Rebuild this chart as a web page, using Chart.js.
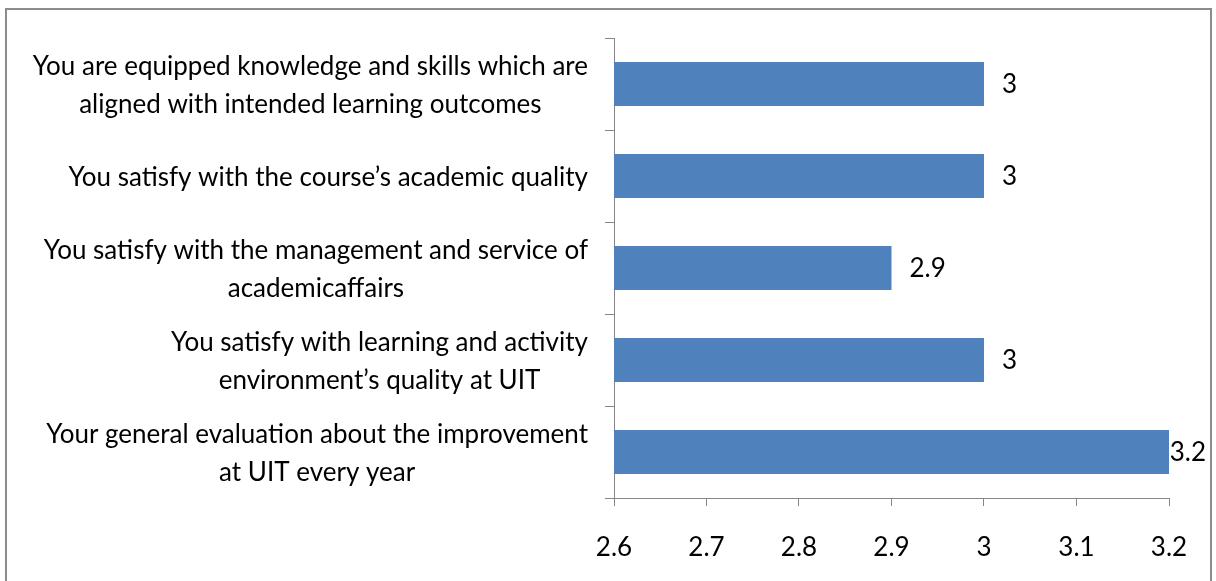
<!DOCTYPE html>
<html><head><meta charset="utf-8">
<script src="https://cdn.jsdelivr.net/npm/chart.js@4.4.1/dist/chart.umd.min.js"></script>
<style>
html,body{margin:0;padding:0;background:#fff;overflow:hidden}
#wrap{position:relative;width:1216px;height:581px}
#frame{position:absolute;left:5px;top:8px;width:1203px;height:600px;border:2px solid #8c8c8c;pointer-events:none}
canvas{position:absolute;left:0;top:0}
</style></head><body>
<div id="wrap"><canvas id="c" width="1216" height="581"></canvas><div id="frame"></div></div>
<script>
const categories = [
  ["You are equipped knowledge and skills which are", "aligned with intended learning outcomes"],
  ["You satisfy with the course’s academic quality"],
  ["You satisfy with the management and service of", "academicaffairs"],
  ["You satisfy with learning and activity", "environment’s quality at UIT"],
  ["Your general evaluation about the improvement", "at UIT every year"]
];
const values = [3, 3, 2.9, 3, 3.2];
const xTicks = [2.6, 2.7, 2.8, 2.9, 3.0, 3.1, 3.2];

const FONT_FAMILY = 'Lato, "Open Sans", sans-serif';
const FONT_SIZE = 26;
const FONT = FONT_SIZE + 'px ' + FONT_FAMILY;
const AXIS = '#868686';
const fmt = v => String(Number(v.toFixed(1)));

const yLabelPlugin = {
  id: 'yLabels',
  afterDraw(chart) {
    const ctx = chart.ctx, ys = chart.scales.y;
    ctx.save();
    ctx.font = FONT; ctx.fillStyle = '#000';
    ctx.textBaseline = 'middle'; ctx.textAlign = 'center';
    const right = ys.right - 26;
    const lh = 38;
    categories.forEach((lines, i) => {
      const yc = ys.getPixelForValue(i) + 2;
      const w = Math.max(...lines.map(l => ctx.measureText(l).width));
      const cx = right - w / 2;
      lines.forEach((l, j) => ctx.fillText(l, cx, yc + (j - (lines.length - 1) / 2) * lh));
    });
    ctx.restore();
  }
};

const dataLabelPlugin = {
  id: 'dataLabels',
  afterDatasetsDraw(chart) {
    const ctx = chart.ctx;
    const meta = chart.getDatasetMeta(0);
    ctx.save();
    ctx.font = FONT; ctx.fillStyle = '#000';
    ctx.textBaseline = 'middle'; ctx.textAlign = 'left';
    meta.data.forEach((bar, i) => {
      const t = fmt(values[i]);
      const w = ctx.measureText(t).width;
      let x = bar.x + 18;
      if (x + w > 1206) x = 1206 - w;
      ctx.fillText(t, x, bar.y + 1);
    });
    ctx.restore();
  }
};

new Chart(document.getElementById('c'), {
  type: 'bar',
  data: {
    labels: categories.map(l => l.join(' ')),
    datasets: [{
      data: values,
      backgroundColor: '#4F81BD',
      borderWidth: 0,
      barPercentage: 0.478,
      categoryPercentage: 1
    }]
  },
  options: {
    indexAxis: 'y',
    responsive: false,
    animation: false,
    layout: { padding: { left: 0, right: 47, top: 38, bottom: 0 } },
    plugins: { legend: { display: false }, tooltip: { enabled: false } },
    scales: {
      x: {
        min: 2.6, max: 3.2,
        afterBuildTicks: s => { s.ticks = xTicks.map(v => ({ value: v })); },
        afterFit: s => { s.height = 83; },
        ticks: { callback: v => fmt(v), color: '#000', font: { family: FONT_FAMILY, size: FONT_SIZE }, padding: 26, maxRotation: 0, autoSkip: false },
        grid: { drawOnChartArea: false, drawTicks: true, tickLength: 8, color: AXIS },
        border: { color: AXIS, width: 1 }
      },
      y: {
        afterFit: s => { s.width = 614; },
        ticks: { display: false },
        grid: { offset: true, drawOnChartArea: false, drawTicks: true, tickLength: 9, color: AXIS },
        border: { color: AXIS, width: 1 }
      }
    }
  },
  plugins: [yLabelPlugin, dataLabelPlugin]
});
</script>
</body></html>
